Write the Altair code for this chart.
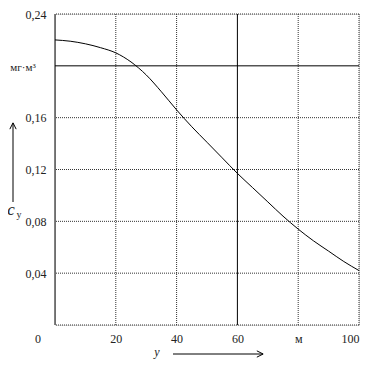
import altair as alt
import pandas as pd

# curve data
xs = [0, 5, 10, 15, 20, 25, 30, 35, 40, 45, 50, 55, 60, 65, 70, 75, 80, 85, 90, 95, 100]
cy = [0.220, 0.219, 0.217, 0.214, 0.210, 0.203, 0.193, 0.180, 0.166, 0.153, 0.141, 0.129, 0.117, 0.106, 0.095, 0.084, 0.074, 0.065, 0.057, 0.049, 0.042]

x_ticks = [0, 20, 40, 60, 80, 100]
y_ticks = [0.04, 0.08, 0.12, 0.16, 0.20, 0.24]
v_dotted = [20, 40, 80, 100]
v_solid = [60]
h_dotted = [0, 0.04, 0.08, 0.12, 0.16, 0.24]
h_solid = [0.20]

FONT = "Liberation Serif"
W, H = 304, 311

df = pd.DataFrame({"x": xs, "c": cy})
xsc = alt.Scale(domain=[0, 100], nice=False)
ysc = alt.Scale(domain=[0, 0.24], nice=False)

xaxis = alt.Axis(values=x_ticks, grid=False, ticks=False, domain=False,
                 labelExpr="datum.value == 80 ? 'м' : (datum.value == 0 ? '' : datum.label)",
                 labelFont=FONT, labelFontSize=12, labelColor="#222", labelPadding=8, title=None)
yaxis = alt.Axis(values=y_ticks, grid=False, ticks=False, domain=False,
                 labelExpr="(datum.value > 0.19 && datum.value < 0.21) ? '' : replace(format(datum.value, '.2f'), '.', ',')",
                 labelFont=FONT, labelFontSize=12, labelColor="#222", labelPadding=9, title=None)

base = alt.Chart(df)

curve = base.mark_line(color="black", strokeWidth=1, interpolate="monotone").encode(
    x=alt.X("x:Q", scale=xsc, axis=xaxis),
    y=alt.Y("c:Q", scale=ysc, axis=yaxis),
)

vd = alt.Chart(pd.DataFrame({"v": v_dotted})).mark_rule(color="#333", strokeWidth=1, strokeDash=[1, 1]).encode(
    x=alt.X("v:Q", scale=xsc))
vs = alt.Chart(pd.DataFrame({"v": v_solid})).mark_rule(color="black", strokeWidth=1).encode(
    x=alt.X("v:Q", scale=xsc))
hd = alt.Chart(pd.DataFrame({"h": h_dotted})).mark_rule(color="#333", strokeWidth=1, strokeDash=[1, 1]).encode(
    y=alt.Y("h:Q", scale=ysc))
hs = alt.Chart(pd.DataFrame({"h": h_solid})).mark_rule(color="black", strokeWidth=1).encode(
    y=alt.Y("h:Q", scale=ysc))
left = alt.Chart(pd.DataFrame({"v": [0]})).mark_rule(color="black", strokeWidth=1).encode(
    x=alt.X("v:Q", scale=xsc))

one = alt.Chart(pd.DataFrame({"a": [0]}))

zero_lbl = one.mark_text(text="0", font=FONT, fontSize=12, color="#222", baseline="middle").encode(
    x=alt.value(-17), y=alt.value(H + 14))
unit_lbl = one.mark_text(text="мг·м³", font=FONT, fontSize=11, color="#222", baseline="middle").encode(
    x=alt.value(-32), y=alt.value(54))
c_lbl = one.mark_text(text="c", font=FONT, fontSize=17, fontStyle="italic", color="#222", baseline="middle").encode(
    x=alt.value(-44), y=alt.value(196))
cy_sub = one.mark_text(text="y", font=FONT, fontSize=10, color="#222", baseline="middle").encode(
    x=alt.value(-36), y=alt.value(201))
v_arrow = one.mark_rule(color="black", strokeWidth=1).encode(
    x=alt.value(-42), y=alt.value(188), y2=alt.value(109))
v_head = one.mark_point(shape="M-1,1L0,-1L1,1", size=40, filled=False, color="black", strokeWidth=1, opacity=1).encode(
    x=alt.value(-42), y=alt.value(112))
y_lbl = one.mark_text(text="y", font=FONT, fontSize=12, fontStyle="italic", color="#222", baseline="middle").encode(
    x=alt.value(102), y=alt.value(338))
h_arrow = one.mark_rule(color="black", strokeWidth=1).encode(
    x=alt.value(118), x2=alt.value(208), y=alt.value(340))
h_head = one.mark_point(shape="M-1,-1L1,0L-1,1", size=40, filled=False, color="black", strokeWidth=1, opacity=1).encode(
    x=alt.value(205), y=alt.value(340))

chart = alt.layer(
    vd, hd, vs, hs, left, curve,
    zero_lbl, unit_lbl, c_lbl, cy_sub, v_arrow, v_head, y_lbl, h_arrow, h_head,
).properties(
    width=W, height=H,
    autosize=alt.AutoSizeParams(type="none"),
    padding={"left": 47, "top": 6, "right": 15, "bottom": 40},
).configure_view(stroke=None).configure(background="white")

chart.save("out.html", embed_options={"renderer": "svg", "actions": False})
